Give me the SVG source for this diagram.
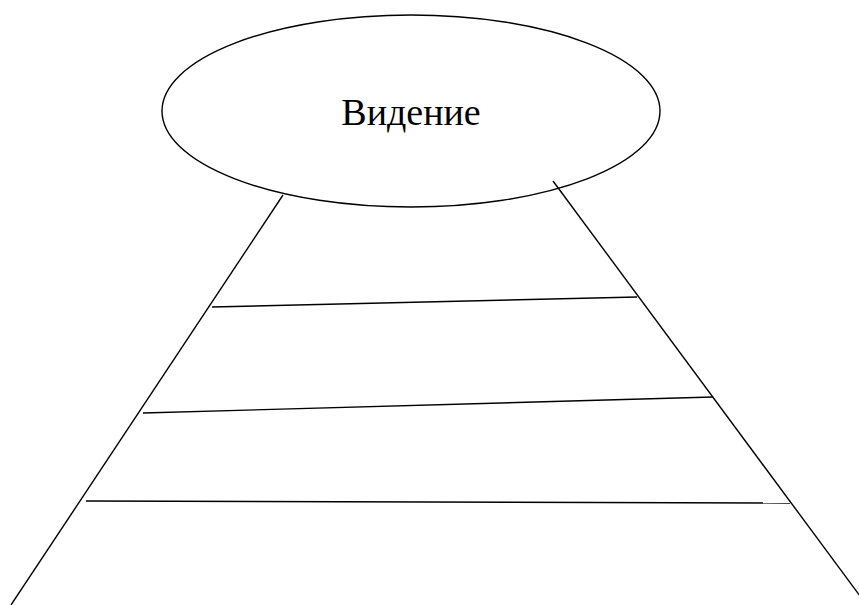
<svg xmlns="http://www.w3.org/2000/svg" width="859" height="605" viewBox="0 0 859 605">
<style>
.s{stroke:#000;stroke-width:1.4;fill:none}
.t{font-family:"Liberation Serif","Times New Roman",serif;font-size:38px;fill:#000}
</style>
<rect width="859" height="605" fill="#fff"/>
<g id="connectors">
<line class="s" x1="283" y1="195" x2="11" y2="605"/>
<line class="s" x1="553" y1="181" x2="860" y2="596"/>
<line class="s" x1="212" y1="307" x2="637" y2="297"/>
<line class="s" x1="143" y1="413" x2="713" y2="397"/>
<line class="s" x1="86" y1="501" x2="790" y2="503"/>
</g>
<g id="vision">
<ellipse class="s" cx="411" cy="111" rx="249" ry="96" fill="#fff"/>
<text class="t" x="411" y="125" text-anchor="middle">Видение</text>
</g>
</svg>
